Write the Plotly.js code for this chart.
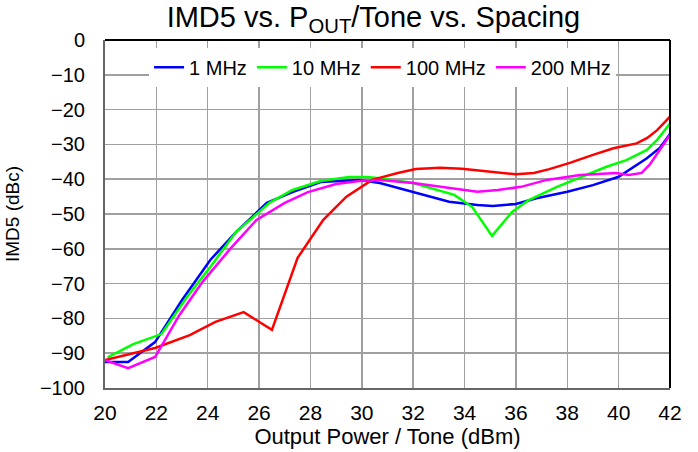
<!DOCTYPE html>
<html>
<head>
<meta charset="utf-8">
<script src="https://cdn.plot.ly/plotly-3.0.1.min.js"></script>
<style>
  html, body { margin: 0; padding: 0; background: #fff; }
  #chart { width: 698px; height: 452px; }
</style>
</head>
<body>
<div id="chart"></div>
<script>
// Series names
const seriesNames = ['1 MHz', '10 MHz', '100 MHz', '200 MHz'];
const seriesColors = ['#0000ff', '#00ff00', '#ff0000', '#ff00ff'];

// 1 MHz
const x1 = [20, 20.9, 21.95, 23.0, 24.1, 25.1, 26.3, 27.3, 28.4, 29.9, 30.7, 32.0, 33.4, 34.5, 35.1, 36.0, 36.8, 38.0, 39.0, 40.0, 41.1, 41.6, 42];
const y1 = [-92.5, -92.5, -86.8, -74.7, -63.2, -55.2, -46.8, -43.7, -40.8, -40.2, -41.1, -43.6, -46.5, -47.4, -47.7, -47.1, -45.5, -43.6, -41.7, -39.3, -34.0, -31.0, -27];

// 10 MHz
const x10 = [20.1, 21.1, 22.2, 23.2, 24.1, 25.1, 26.4, 27.3, 28.4, 29.5, 30.2, 30.7, 32.0, 33.6, 34.3, 35.07, 35.85, 36.5, 37.6, 38.5, 39.5, 40.3, 41.1, 41.5, 42];
const y10 = [-91.2, -87.4, -84.5, -73.8, -65.2, -55.2, -46.8, -43.1, -40.5, -39.4, -39.4, -39.7, -41.1, -44.5, -48, -56.3, -49.4, -46, -42.2, -39.4, -36.5, -34.5, -31.6, -28.7, -24];

// 100 MHz
const x100 = [20, 21.95, 23.3, 24.3, 25.4, 26.5, 27.5, 28.5, 29.4, 30.4, 31.4, 32.1, 33.05, 33.9, 36.0, 36.7, 37.3, 38.1, 39.0, 39.8, 40.7, 41.1, 41.5, 42];
const y100 = [-92, -88.5, -84.8, -81, -78.2, -83.3, -62.6, -51.7, -45, -40.2, -38.2, -37.1, -36.7, -37, -38.6, -38.2, -37.1, -35.3, -33.0, -31.1, -29.7, -28.2, -25.9, -22];

// 200 MHz
const x200 = [20, 20.9, 21.95, 22.9, 23.8, 24.9, 25.9, 27.0, 27.9, 29.0, 29.9, 30.7, 32.0, 33.3, 34.5, 35.3, 36.2, 37.2, 38.5, 39.9, 40.4, 40.9, 41.2, 41.6, 42];
const y200 = [-92, -94.3, -91.1, -79, -69.5, -59.8, -51.7, -46.8, -43.7, -41.4, -40.5, -40.2, -41.1, -42.5, -43.6, -43.1, -42.2, -40.2, -38.8, -38.2, -38.8, -38.2, -35.9, -31.6, -27.3];

const xs = [x1, x10, x100, x200];
const ys = [y1, y10, y100, y200];

const FONT = 'Liberation Sans, Arial, sans-serif';

const traces = seriesNames.map((name, i) => ({
  type: 'scatter',
  mode: 'lines',
  name: name,
  x: xs[i],
  y: ys[i],
  line: { color: seriesColors[i], width: 2.5 },
  cliponaxis: true
}));

const layout = {
  width: 698,
  height: 452,
  margin: { l: 105, r: 28, t: 40, b: 64 },
  paper_bgcolor: '#ffffff',
  plot_bgcolor: '#ffffff',
  font: { family: FONT, color: '#000', size: 19 },
  title: {
    text: 'IMD5 vs. P<sub>OUT</sub>/Tone vs. Spacing',
    font: { family: FONT, size: 29, color: '#000' },
    xref: 'container', x: 0.535, xanchor: 'center',
    yref: 'container', y: 0.962, yanchor: 'middle'
  },
  xaxis: {
    range: [20, 42],
    dtick: 2,
    tick0: 20,
    showgrid: true,
    gridcolor: '#a0a0a0',
    gridwidth: 1.5,
    zeroline: false,
    showline: true,
    linecolor: '#666',
    linewidth: 2,
    ticks: '',
    ticklabelstandoff: 5,
    tickfont: { family: FONT, size: 21, color: '#000' },
    title: { text: 'Output Power / Tone (dBm)', font: { family: FONT, size: 22, color: '#000' }, standoff: 4 },
    automargin: false
  },
  yaxis: {
    range: [-100, 0],
    dtick: 10,
    showgrid: true,
    gridcolor: '#a0a0a0',
    gridwidth: 1.5,
    zeroline: false,
    showline: true,
    linecolor: '#666',
    linewidth: 2,
    ticks: '',
    ticklabelstandoff: 14,
    tickfont: { family: FONT, size: 20, color: '#000' },
    title: { text: 'IMD5 (dBc)', font: { family: FONT, size: 19, color: '#000' }, standoff: 15 },
    automargin: false
  },
  legend: {
    orientation: 'h',
    x: 0.078, xanchor: 'left',
    y: 0.978, yanchor: 'top',
    bgcolor: '#ffffff',
    borderwidth: 0,
    font: { family: FONT, size: 20, color: '#000' },
    itemwidth: 30,
    tracegroupgap: 0
  },
  shapes: [
    { type: 'line', xref: 'paper', yref: 'paper', x0: 0, x1: 1, y0: 1, y1: 1, line: { color: '#000', width: 2 } },
    { type: 'line', xref: 'paper', yref: 'paper', x0: 1, x1: 1, y0: 0, y1: 1, line: { color: '#000', width: 2 } }
  ],
  showlegend: true
};

Plotly.newPlot('chart', traces, layout, { displayModeBar: false, staticPlot: true });
</script>
</body>
</html>
